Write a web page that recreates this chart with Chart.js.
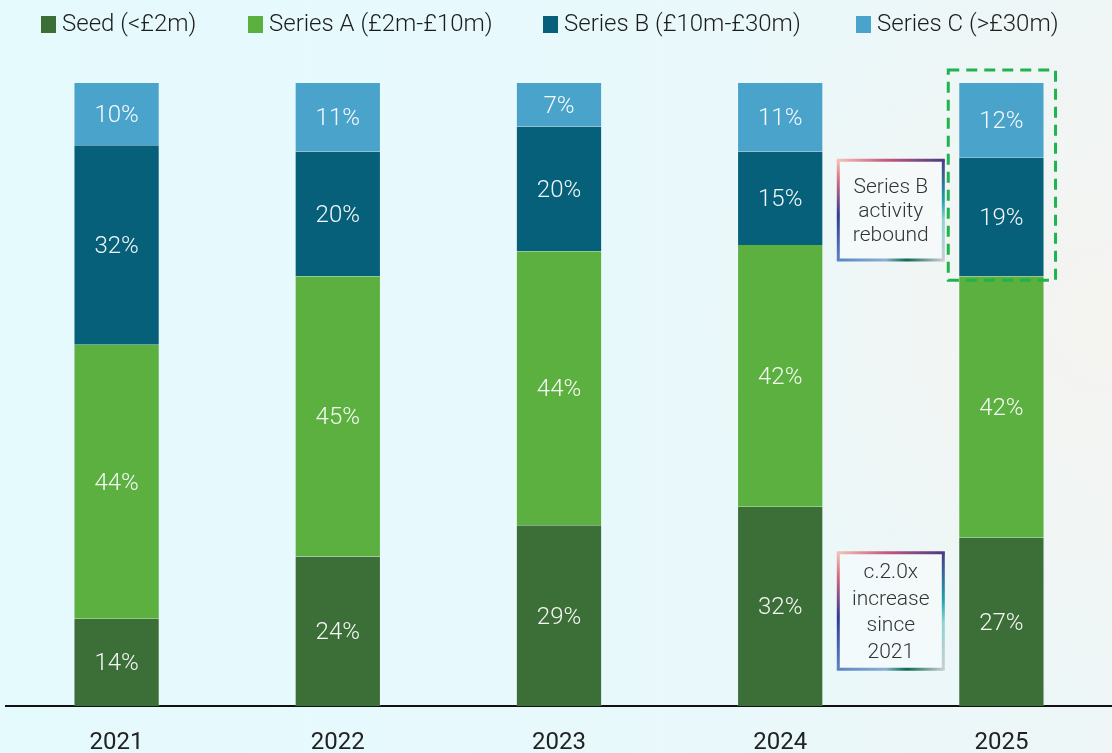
<!DOCTYPE html>
<html>
<head>
<meta charset="utf-8">
<script src="https://cdn.jsdelivr.net/npm/chart.js@4/dist/chart.umd.min.js"></script>
<style>
  html, body { margin: 0; padding: 0; }
  body {
    width: 1112px; height: 753px; overflow: hidden;
    background:
      radial-gradient(ellipse 420px 380px at 1112px 320px, rgba(245,244,240,0.95), rgba(245,244,240,0) 100%),
      linear-gradient(to right, #e5fafd 0%, #e8f9fc 55%, #eef6f7 100%);
  }
  #wrap { position: relative; width: 1112px; height: 753px; }
</style>
</head>
<body>
<div id="wrap"><canvas id="chart" width="1112" height="753"></canvas></div>
<script>
// Share of deals by stage, per year (percent)
const years = ['2021', '2022', '2023', '2024', '2025'];
const seed    = [14, 24, 29, 32, 27];
const seriesA = [44, 45, 44, 42, 42];
const seriesB = [32, 20, 20, 15, 19];
const seriesC = [10, 11, 7, 11, 12];

const seriesNames = ['Seed (<£2m)', 'Series A (£2m-£10m)', 'Series B (£10m-£30m)', 'Series C (>£30m)'];
const seriesColors = ['#3c6e37', '#5bb03f', '#06607a', '#4aa3ca'];

// Call-out boxes between 2024 and 2025
const calloutRebound = ['Series B', 'activity', 'rebound'];
const calloutIncrease = ['c.2.0x', 'increase', 'since', '2021'];

const FONT = 'Roboto, "Liberation Sans", sans-serif';

// Legend row across the top, one swatch + label per dataset
const legendRow = {
  id: 'legendRow',
  afterDraw(chart) {
    const ctx = chart.ctx;
    const starts = [41, 248, 543, 856];
    ctx.save();
    ctx.font = '300 24px ' + FONT;
    ctx.textBaseline = 'middle';
    ctx.textAlign = 'left';
    chart.data.datasets.forEach((ds, i) => {
      const x = starts[i];
      ctx.fillStyle = ds.backgroundColor;
      ctx.fillRect(x, 16, 15, 17);
      ctx.fillStyle = '#1c1c1c';
      ctx.fillText(ds.label, x + 21, 25);
    });
    ctx.restore();
  }
};

const valueLabels = {
  id: 'valueLabels',
  afterDatasetsDraw(chart) {
    const ctx = chart.ctx;
    ctx.save();
    ctx.fillStyle = 'rgba(255,255,255,0.95)';
    ctx.font = '300 24px ' + FONT;
    ctx.textAlign = 'center';
    ctx.textBaseline = 'middle';
    chart.data.datasets.forEach((ds, i) => {
      const meta = chart.getDatasetMeta(i);
      meta.data.forEach((bar, j) => {
        const y = (bar.y + bar.base) / 2;
        ctx.fillText(ds.data[j] + '%', bar.x, y + 2);
      });
    });
    ctx.restore();
  }
};

function gradientFrame(ctx, x0, y0, x1, y1) {
  const lw = 3;
  const h = lw / 2;
  // top edge
  let g = ctx.createLinearGradient(x0, y0, x1, y0);
  g.addColorStop(0, '#f3c2b3'); g.addColorStop(0.45, '#c65a80'); g.addColorStop(1, '#4b3a86');
  ctx.strokeStyle = g; ctx.beginPath(); ctx.moveTo(x0 - h, y0); ctx.lineTo(x1 + h, y0); ctx.stroke();
  // right edge
  g = ctx.createLinearGradient(x1, y0, x1, y1);
  g.addColorStop(0, '#4b3a86'); g.addColorStop(0.4, '#1fa0a8'); g.addColorStop(0.6, '#8fd3cb'); g.addColorStop(1, '#c9cdd4');
  ctx.strokeStyle = g; ctx.beginPath(); ctx.moveTo(x1, y0); ctx.lineTo(x1, y1 + h); ctx.stroke();
  // bottom edge
  g = ctx.createLinearGradient(x0, y1, x1, y1);
  g.addColorStop(0, '#5c84c4'); g.addColorStop(0.45, '#8ab0d0'); g.addColorStop(0.65, '#0f6a4e'); g.addColorStop(1, '#c9cdd4');
  ctx.strokeStyle = g; ctx.beginPath(); ctx.moveTo(x0 - h, y1); ctx.lineTo(x1, y1); ctx.stroke();
  // left edge
  g = ctx.createLinearGradient(x0, y0, x0, y1);
  g.addColorStop(0, '#f3c2b3'); g.addColorStop(0.2, '#d86a80'); g.addColorStop(0.55, '#2f3a92'); g.addColorStop(1, '#5c84c4');
  ctx.strokeStyle = g; ctx.beginPath(); ctx.moveTo(x0, y0); ctx.lineTo(x0, y1); ctx.stroke();
}

const callouts = {
  id: 'callouts',
  afterDatasetsDraw(chart) {
    const ctx = chart.ctx;
    const xs = chart.scales.x, ys = chart.scales.y;
    const mid = (xs.getPixelForValue(3) + xs.getPixelForValue(4)) / 2;
    const boxW = 105;

    function box(top, bottom, lines, lineGap) {
      const x0 = mid - boxW / 2, x1 = mid + boxW / 2;
      const y0 = ys.getPixelForValue(top), y1 = ys.getPixelForValue(bottom);
      ctx.save();
      ctx.fillStyle = 'rgba(248,251,252,0.6)';
      ctx.fillRect(x0, y0, boxW, y1 - y0);
      ctx.lineWidth = 3;
      gradientFrame(ctx, x0, y0, x1, y1);
      ctx.fillStyle = '#333';
      ctx.font = '300 21px ' + FONT;
      ctx.textAlign = 'center';
      ctx.textBaseline = 'middle';
      const cy = (y0 + y1) / 2;
      const start = cy - (lines.length - 1) * lineGap / 2;
      lines.forEach((t, i) => ctx.fillText(t, mid, start + i * lineGap + 2));
      ctx.restore();
    }
    box(87.6, 71.6, calloutRebound, 24);
    box(24.6, 5.9, calloutIncrease, 26.5);

    // dashed highlight around the 2025 Series B / C segments
    const bars = chart.getDatasetMeta(3).data;
    const last = bars[bars.length - 1];
    const lowB = chart.getDatasetMeta(2).data[bars.length - 1];
    const top = ys.getPixelForValue(100) - 13;
    ctx.save();
    ctx.strokeStyle = '#1fb34f';
    ctx.lineWidth = 3;
    ctx.setLineDash([11, 7]);
    ctx.strokeRect(last.x - last.width / 2 - 10, top, last.width + 21, lowB.base + 4 - top);
    ctx.restore();
  }
};

const datasets = [seed, seriesA, seriesB, seriesC].map((d, i) => ({
  label: seriesNames[i],
  data: d,
  backgroundColor: seriesColors[i],
  borderColor: 'rgba(255,255,255,0.18)',
  borderWidth: { left: 1, right: 1, top: 0, bottom: 0 },
  borderSkipped: false,
  categoryPercentage: 1,
  barPercentage: 0.39
}));

new Chart(document.getElementById('chart'), {
  type: 'bar',
  data: { labels: years, datasets },
  plugins: [valueLabels, callouts, legendRow],
  options: {
    responsive: false,
    animation: false,
    layout: { padding: { left: 6, right: -3, top: 83, bottom: 0 } },
    plugins: {
      tooltip: { enabled: false },
      legend: { display: false }
    },
    scales: {
      x: {
        stacked: true,
        grid: { display: false, drawTicks: false },
        border: { display: true, color: '#111', width: 2 },
        ticks: { font: { family: FONT, size: 24 }, color: '#222', padding: 23 },
        afterFit(s) { s.height = 47; }
      },
      y: {
        stacked: true,
        display: false,
        min: 0,
        max: 100
      }
    }
  }
});
</script>
</body>
</html>
